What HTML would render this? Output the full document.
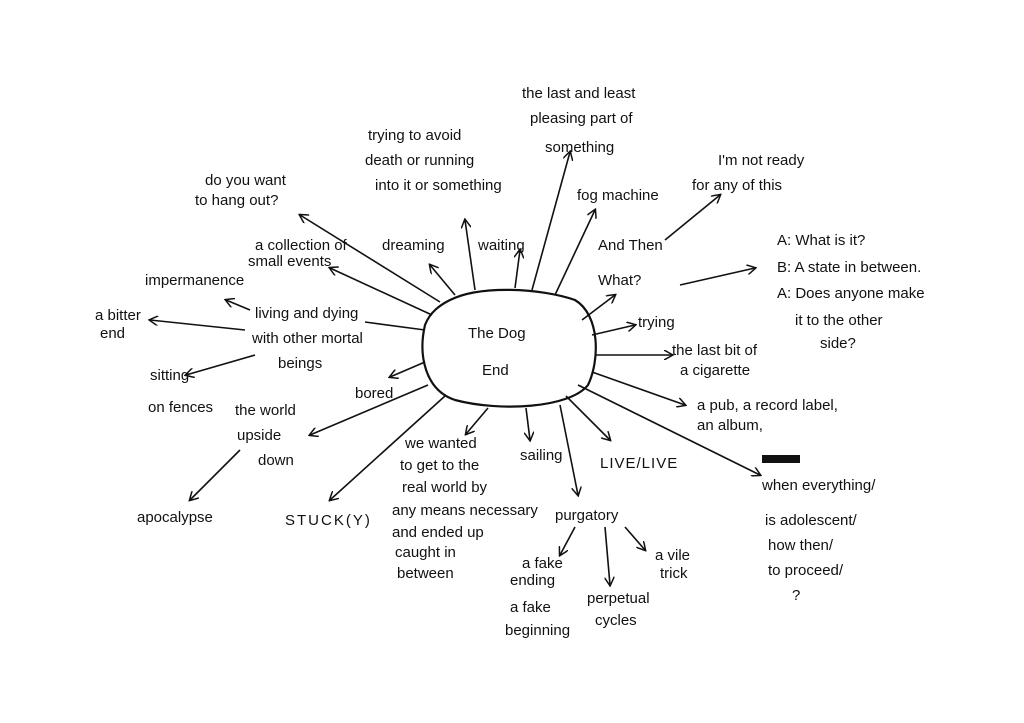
<!DOCTYPE html>
<html><head><meta charset="utf-8"><style>
html,body{margin:0;padding:0;background:#fff;}
svg{display:block;}
text{font-family:"Liberation Sans",sans-serif;fill:#111;font-size:15px;}
</style></head><body>
<svg width="1024" height="723" viewBox="0 0 1024 723" xmlns="http://www.w3.org/2000/svg">
<defs><marker id="a" markerWidth="10" markerHeight="10" refX="8" refY="5" orient="auto" markerUnits="userSpaceOnUse"><path d="M0,0 L9,5 L0,10" fill="none" stroke="#111" stroke-width="1.5"/></marker></defs>
<path d="M450,300 C480,285 540,288 575,300 C600,315 600,360 588,385 C570,408 500,412 455,400 C425,390 418,355 425,325 C430,312 440,305 450,300 Z" fill="none" stroke="#111" stroke-width="2.2"/>
<text x="468" y="338" font-size="24">The Dog</text>
<text x="482" y="375" font-size="24">End</text>
<g stroke="#111" stroke-width="1.6" fill="none" marker-end="url(#a)">
<line x1="440" y1="302" x2="300" y2="215"/>
<line x1="432" y1="315" x2="330" y2="268"/>
<line x1="455" y1="295" x2="430" y2="265"/>
<line x1="475" y1="290" x2="465" y2="220"/>
<line x1="515" y1="288" x2="520" y2="250"/>
<line x1="532" y1="290" x2="570" y2="152"/>
<line x1="555" y1="295" x2="595" y2="210"/>
<line x1="582" y1="320" x2="615" y2="295"/>
<line x1="665" y1="240" x2="720" y2="195"/>
<line x1="680" y1="285" x2="755" y2="268"/>
<line x1="592" y1="335" x2="635" y2="325"/>
<line x1="596" y1="355" x2="672" y2="355"/>
<line x1="592" y1="372" x2="685" y2="405"/>
<line x1="578" y1="385" x2="760" y2="475"/>
<line x1="566" y1="396" x2="610" y2="440"/>
<line x1="560" y1="405" x2="578" y2="495"/>
<line x1="526" y1="408" x2="530" y2="440"/>
<line x1="488" y1="408" x2="466" y2="434"/>
<line x1="445" y1="396" x2="330" y2="500"/>
<line x1="428" y1="385" x2="310" y2="435"/>
<line x1="425" y1="362" x2="390" y2="377"/>
<line x1="250" y1="310" x2="226" y2="300"/>
<line x1="245" y1="330" x2="150" y2="320"/>
<line x1="255" y1="355" x2="186" y2="375"/>
<line x1="240" y1="450" x2="190" y2="500"/>
<line x1="575" y1="527" x2="560" y2="555"/>
<line x1="605" y1="527" x2="610" y2="585"/>
<line x1="625" y1="527" x2="645" y2="550"/>
</g>
<line x1="425" y1="330" x2="365" y2="322" stroke="#111" stroke-width="1.6"/>
<text x="205" y="185">do you want</text><text x="195" y="205">to hang out?</text>
<text x="255" y="250" font-size="13">a collection of</text><text x="248" y="266" font-size="13">small events</text>
<text x="382" y="250" font-size="14">dreaming</text>
<text x="368" y="140">trying to avoid</text><text x="365" y="165">death or running</text><text x="375" y="190">into it or something</text>
<text x="478" y="250" font-size="14">waiting</text>
<text x="522" y="98">the last and least</text><text x="530" y="123">pleasing part of</text><text x="545" y="152">something</text>
<text x="577" y="200">fog machine</text>
<text x="598" y="250" font-size="20">And Then</text><text x="598" y="285" font-size="20">What?</text>
<text x="718" y="165">I'm not ready</text><text x="692" y="190">for any of this</text>
<text x="777" y="245" font-size="17">A: What is it?</text><text x="777" y="272" font-size="17">B: A state in between.</text><text x="777" y="298" font-size="15">A: Does anyone make</text><text x="795" y="325" font-size="15">it to the other</text><text x="820" y="348" font-size="15">side?</text>
<text x="638" y="327">trying</text>
<text x="672" y="355">the last bit of</text><text x="680" y="375">a cigarette</text>
<text x="697" y="410">a pub, a record label,</text><text x="697" y="430">an album,</text>
<text x="600" y="468" font-size="22" letter-spacing="1">LIVE/LIVE</text>
<rect x="762" y="455" width="38" height="8" fill="#111"/>
<text x="762" y="490">when everything/</text><text x="765" y="525">is adolescent/</text><text x="768" y="550">how then/</text><text x="768" y="575">to proceed/</text><text x="792" y="600">?</text>
<text x="520" y="460" font-size="14">sailing</text>
<text x="555" y="520">purgatory</text>
<text x="522" y="568" font-size="13">a fake</text><text x="510" y="585" font-size="13">ending</text>
<text x="510" y="612" font-size="13">a fake</text><text x="505" y="635" font-size="13">beginning</text>
<text x="587" y="603">perpetual</text><text x="595" y="625">cycles</text>
<text x="655" y="560" font-size="13">a vile</text><text x="660" y="578" font-size="13">trick</text>
<text x="405" y="448" font-size="13">we wanted</text><text x="400" y="470">to get to the</text><text x="402" y="492">real world by</text><text x="392" y="515" font-size="13">any means necessary</text><text x="392" y="537" font-size="13">and ended up</text><text x="395" y="557">caught in</text><text x="397" y="578" font-size="13">between</text>
<text x="285" y="525" font-size="15" letter-spacing="2">STUCK(Y)</text>
<text x="235" y="415">the world</text><text x="237" y="440">upside</text><text x="258" y="465">down</text>
<text x="355" y="398" font-size="12">bored</text>
<text x="255" y="318">living and dying</text><text x="252" y="343">with other mortal</text><text x="278" y="368">beings</text>
<text x="145" y="285" font-size="13">impermanence</text>
<text x="95" y="320" font-size="13">a bitter</text><text x="100" y="338" font-size="13">end</text>
<text x="150" y="380">sitting</text><text x="148" y="412" font-size="13">on fences</text>
<text x="137" y="522">apocalypse</text>
</svg>
</body></html>
